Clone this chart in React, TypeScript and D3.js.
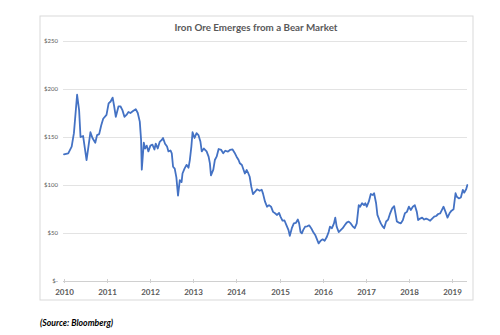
import React from "react";
import * as d3 from "d3";

const TITLE = "Iron Ore Emerges from a Bear Market";
const SOURCE = "(Source: Bloomberg)";
const Y_TICKS = [0, 50, 100, 150, 200, 250];
const X_TICK_YEARS = [2010, 2011, 2012, 2013, 2014, 2015, 2016, 2017, 2018, 2019];

const DATES = [
  "2010-01-01","2010-02-06","2010-03-07","2010-03-26","2010-04-22","2010-05-09","2010-05-21","2010-06-12",
  "2010-07-11","2010-07-27","2010-08-13","2010-08-30","2010-09-23","2010-10-08","2010-10-26","2010-11-12",
  "2010-11-29","2010-12-27","2011-01-14","2011-01-31","2011-02-17","2011-03-02","2011-03-16","2011-04-08",
  "2011-04-24","2011-05-11","2011-05-28","2011-06-14","2011-07-01","2011-07-18","2011-08-09","2011-09-01",
  "2011-09-18","2011-10-05","2011-10-16","2011-10-22","2011-11-08","2011-11-19","2011-12-03","2011-12-17",
  "2012-01-03","2012-01-20","2012-02-06","2012-02-17","2012-03-05","2012-03-22","2012-04-08","2012-04-19",
  "2012-05-06","2012-05-23","2012-06-04","2012-06-21","2012-07-02","2012-07-13","2012-07-27","2012-08-10",
  "2012-08-24","2012-09-08","2012-09-23","2012-10-01","2012-10-18","2012-11-04","2012-11-21","2012-12-02",
  "2012-12-15","2012-12-25","2013-01-11","2013-01-28","2013-02-13","2013-03-02","2013-03-13","2013-03-31",
  "2013-04-23","2013-05-10","2013-05-21","2013-05-30","2013-06-19","2013-07-02","2013-07-17","2013-08-03",
  "2013-08-25","2013-09-11","2013-09-28","2013-10-21","2013-11-07","2013-11-29","2013-12-16","2014-01-02",
  "2014-01-19","2014-01-30","2014-02-16","2014-03-13","2014-03-29","2014-04-12","2014-04-23","2014-05-07",
  "2014-05-21","2014-06-08","2014-06-24","2014-07-17","2014-08-03","2014-08-14","2014-08-31","2014-09-17",
  "2014-10-04","2014-10-21","2014-11-07","2014-11-24","2014-12-11","2014-12-28","2015-01-09","2015-01-26",
  "2015-02-12","2015-03-01","2015-03-18","2015-03-29","2015-04-15","2015-05-02","2015-05-19","2015-06-05",
  "2015-06-16","2015-06-28","2015-07-09","2015-07-20","2015-08-06","2015-08-23","2015-09-09","2015-09-26",
  "2015-10-13","2015-10-30","2015-11-11","2015-11-28","2015-12-15","2016-01-01","2016-01-18","2016-02-04",
  "2016-02-21","2016-03-03","2016-03-20","2016-04-06","2016-04-17","2016-04-29","2016-05-16","2016-06-02",
  "2016-06-19","2016-07-06","2016-07-23","2016-08-09","2016-08-26","2016-09-12","2016-09-29","2016-10-16",
  "2016-11-02","2016-11-13","2016-11-30","2016-12-17","2016-12-28","2017-01-09","2017-01-26","2017-02-12",
  "2017-03-01","2017-03-12","2017-03-29","2017-04-09","2017-04-26","2017-05-08","2017-05-25","2017-06-05",
  "2017-06-22","2017-07-09","2017-07-26","2017-08-12","2017-08-29","2017-09-09","2017-09-21","2017-10-08",
  "2017-10-25","2017-11-11","2017-11-28","2017-12-15","2018-01-01","2018-01-17","2018-02-03","2018-02-20",
  "2018-03-09","2018-03-20","2018-04-06","2018-04-23","2018-05-10","2018-05-27","2018-06-13","2018-06-30",
  "2018-07-17","2018-08-03","2018-08-20","2018-09-06","2018-09-23","2018-10-10","2018-10-21","2018-11-07",
  "2018-11-24","2018-12-11","2018-12-28","2019-01-14","2019-01-31","2019-02-11","2019-02-28","2019-03-17",
  "2019-04-03","2019-04-14","2019-05-01","2019-05-11"
];

const PRICES = [
  132, 133, 140, 154, 194, 178, 150, 151,
  126, 140, 155, 149, 144, 152, 153, 162,
  169, 173, 185, 187, 191, 182, 171, 182,
  182, 178, 171, 173, 176, 175, 177, 179,
  175, 166, 147, 116, 144, 138, 141, 135,
  141, 142, 137, 143, 138, 145, 147, 149,
  143, 140, 135, 136, 133, 119, 117, 108,
  89, 105, 103, 112, 117, 121, 118, 126,
  140, 155, 149, 154, 152, 145, 135, 138,
  135, 129.5, 122.6, 110, 116, 126, 129.5, 137.5,
  136.5, 133, 135.7, 134.7, 136.5, 137, 133.7, 129.5,
  126, 122.6, 120.8, 112, 115.6, 112, 108.6, 98,
  90.5, 93, 95.5, 94, 95, 91, 82.6, 77.4,
  79, 77.4, 72, 70.5, 68.8, 71, 67, 62.8,
  63, 58, 53, 47, 55, 60, 60.5, 64,
  60, 51, 49.7, 53, 56.6, 57, 58, 55,
  51, 48, 44.4, 39.2, 42, 43.4, 42, 45.5,
  51, 56.6, 55, 60, 66, 56.6, 51, 53,
  55, 58, 60.8, 61.9, 60, 57, 55, 60,
  79, 77.4, 81, 79, 81, 77.4, 82.6, 90.6,
  89.6, 91.4, 81, 68.8, 63.5, 60, 56.6, 55,
  62, 64, 70.5, 75.7, 78, 70.5, 62, 60.8,
  60, 63.5, 70.5, 72, 77.4, 74, 77.4, 79,
  72, 63.5, 65, 66, 64, 65, 64, 62.8,
  65, 67, 67.7, 69.8, 70.5, 74.7, 77.4, 72,
  66, 70.5, 73.3, 74.7, 91.4, 87.8, 86, 87,
  95, 92, 95.5, 100
];

export default function App() {
  const W = 500, H = 335;
  const parse = d3.timeParse("%Y-%m-%d");
  const data = DATES.map((d, i) => ({ date: parse(d) as Date, value: PRICES[i] }));

  const x = d3.scaleTime()
    .domain([new Date(2010, 0, 1), new Date(2019, 0, 1)])
    .range([64, 452]);
  const y = d3.scaleLinear().domain([0, 250]).range([281, 41]);

  const line = d3.line<{ date: Date; value: number }>()
    .x(d => x(d.date))
    .y(d => y(d.value))
    .curve(d3.curveLinear);

  const font = "Lato, 'Open Sans', sans-serif";
  const gridX0 = 63, gridX1 = 467;

  return (
    <svg width={W} height={H} style={{ position: "absolute", left: 0, top: 0, display: "block", background: "#fff" }}>
      <rect x={40} y={16} width={433} height={284} fill="#fff" stroke="#d9d9d9" strokeWidth={1} />
      <text x={256} y={31} textAnchor="middle" fontFamily={font} fontWeight={700} fontSize={9.8} fill="#595959">
        {TITLE}
      </text>
      {Y_TICKS.map(t => (
        <g key={t}>
          {t > 0 && (
            <line x1={gridX0} x2={gridX1} y1={Math.round(y(t)) + 0.5} y2={Math.round(y(t)) + 0.5} stroke="#e3e3e3" strokeWidth={1} />
          )}
          <text x={58} y={y(t) + 2.3} textAnchor="end" fontFamily={font} fontSize={6} fill="#595959">
            {t === 0 ? "$-" : `$${t}`}
          </text>
        </g>
      ))}
      <line x1={gridX0} x2={gridX1} y1={Math.round(y(0)) + 0.5} y2={Math.round(y(0)) + 0.5} stroke="#d0d0d0" strokeWidth={1} />
      {X_TICK_YEARS.map(yr => {
        const xp = Math.round(x(new Date(yr, 0, 1))) + 0.5;
        return (
          <g key={yr}>
            <line x1={xp} x2={xp} y1={y(0) - 2} y2={y(0) + 2} stroke="#d0d0d0" strokeWidth={1} />
            <text x={xp} y={295} textAnchor="middle" fontFamily={font} fontWeight={700} fontSize={8} fill="#595959">
              {yr}
            </text>
          </g>
        );
      })}
      <path d={line(data) || ""} fill="none" stroke="#4472C4" strokeWidth={1.8} strokeLinejoin="round" strokeLinecap="round" />
      <text x={40} y={325.5} fontFamily={font} fontWeight={700} fontStyle="italic" fontSize={8.7} fill="#000">
        {SOURCE}
      </text>
    </svg>
  );
}
